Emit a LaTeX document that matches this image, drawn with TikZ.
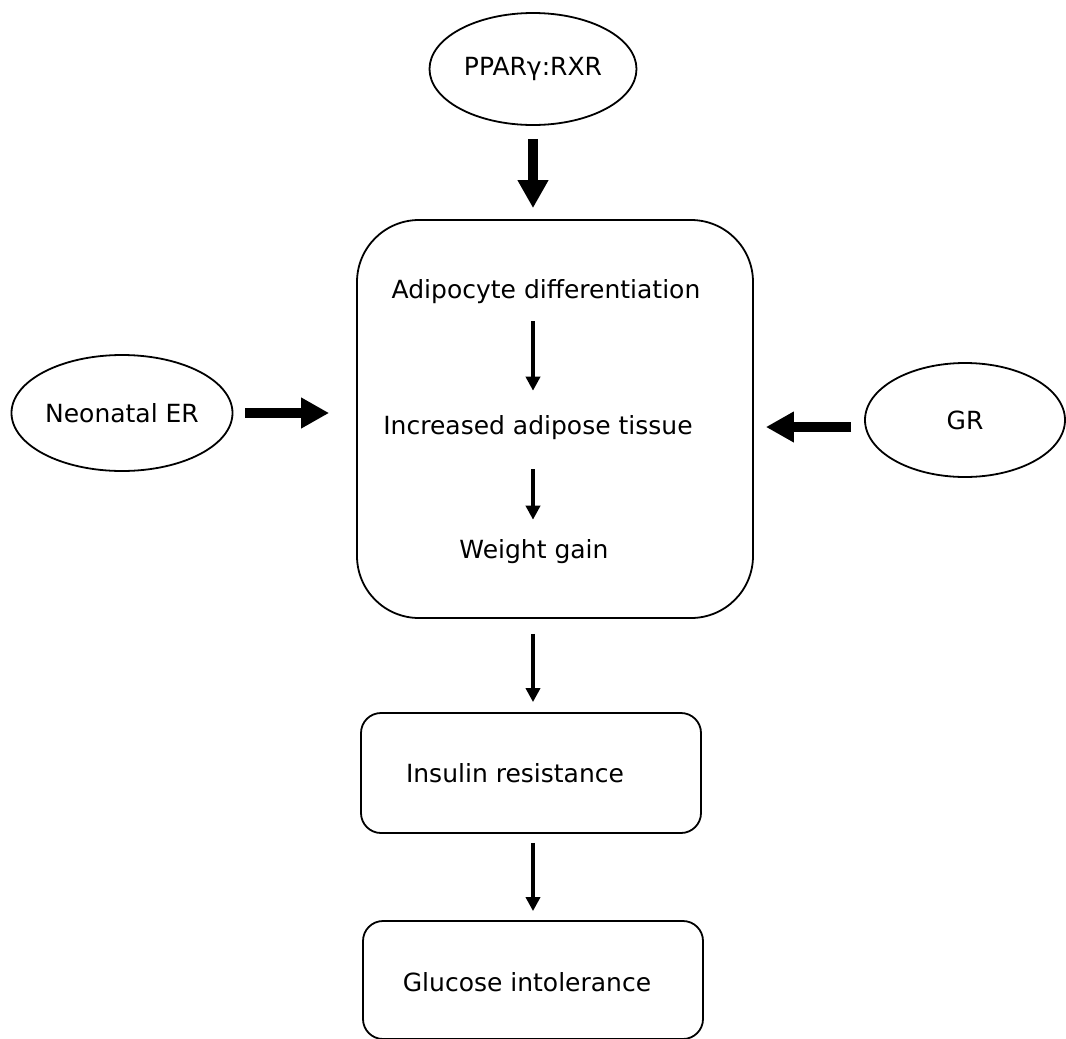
\documentclass[tikz,border=0pt]{standalone}
\usepackage{fontspec}
\setmainfont{DejaVu Sans}
\usetikzlibrary{shapes.geometric,arrows.meta,calc}
\begin{document}
\begin{tikzpicture}[x=1pt,y=-1pt,
  every node/.style={font=\fontsize{25}{30}\selectfont},
  oval/.style={draw,ellipse,line width=1.8pt,inner sep=0pt},
  roundbox/.style={draw,rectangle,line width=1.8pt,inner sep=0pt},
  txt/.style={inner sep=0pt},
  fatarrow/.style={line width=10pt,-{Triangle[width=29pt,length=28pt]}},
  thinarrow/.style={line width=3.5pt,-{Triangle[width=14pt,length=14pt]}}]
\useasboundingbox (0,0) rectangle (1066,1039);
% nodes
\node[oval,minimum width=207pt,minimum height=112pt] (ppar) at (533,69) {PPARγ:RXR};
\node[oval,minimum width=221pt,minimum height=116pt] (neo) at (122,413) {Neonatal ER};
\node[oval,minimum width=200pt,minimum height=114pt] (gr) at (965,420) {GR};
\node[roundbox,minimum width=396pt,minimum height=398pt,rounded corners=62pt] (big) at (555,419) {};
\node[txt] (adipo) at (546,292) {Adipocyte differentiation};
\node[txt] (incr) at (538,428) {Increased adipose tissue};
\node[txt] (wg) at (534,552) {Weight gain};
\node[roundbox,minimum width=340pt,minimum height=120pt,rounded corners=20pt] (ins) at (531,773) {};
\node[txt] (instxt) at (515,773) {Insulin resistance};
\node[roundbox,minimum width=340pt,minimum height=118pt,rounded corners=20pt] (glu) at (533,980) {};
\node[txt] (glutxt) at (527,982) {Glucose intolerance};
\coordinate (ax) at (533,0);
\coordinate (grout) at ($(gr.west)+(0,7)$);
% connectors
\draw[fatarrow,shorten <=13pt,shorten >=11pt] (ppar.south) -- (ppar.south |- big.north);
\draw[fatarrow,shorten <=12pt,shorten >=27pt] (neo.east) -- (neo.east -| big.west);
\draw[fatarrow,shorten <=13pt,shorten >=12pt] (grout) -- (grout -| big.east);
\draw[thinarrow,shorten <=17pt,shorten >=25pt] (adipo.south -| ax) -- (incr.north -| ax);
\draw[thinarrow,shorten <=29pt,shorten >=20pt] (incr.south -| ax) -- (wg.north -| ax);
\draw[thinarrow,shorten <=15pt,shorten >=10pt] (big.south -| ax) -- (ins.north -| ax);
\draw[thinarrow,shorten <=9pt,shorten >=9pt] (ins.south -| ax) -- (glu.north -| ax);
\end{tikzpicture}
\end{document}
